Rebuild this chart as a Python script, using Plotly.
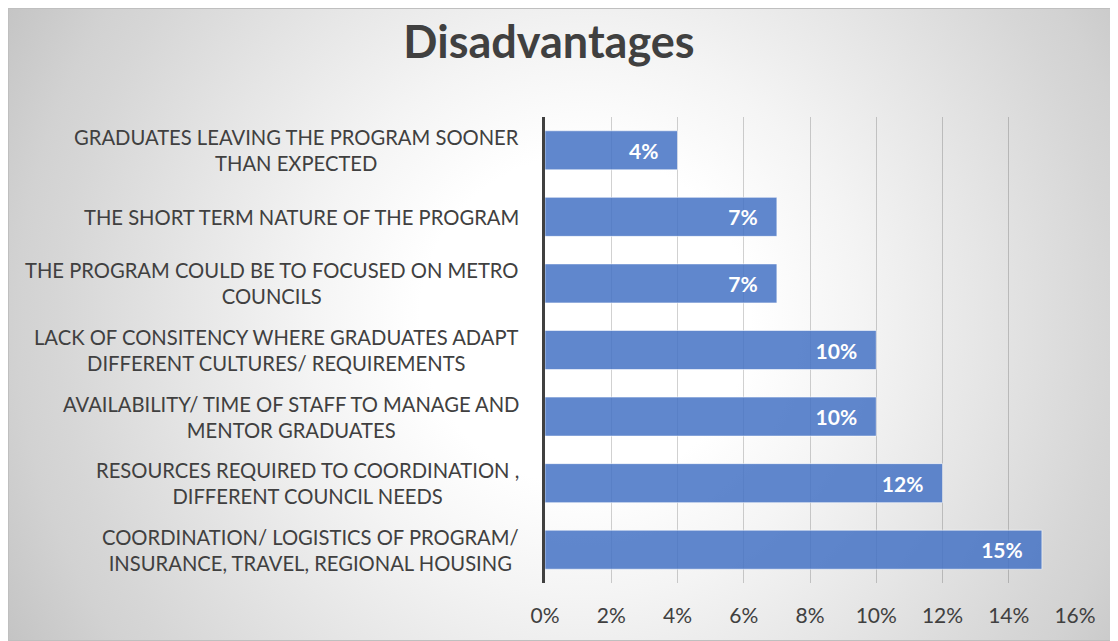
import base64
import plotly.graph_objects as go

categories = [
    "GRADUATES LEAVING THE PROGRAM SOONER<br>THAN EXPECTED",
    "THE SHORT TERM NATURE OF THE PROGRAM",
    "THE PROGRAM COULD BE TO FOCUSED ON METRO<br>COUNCILS",
    "LACK OF CONSITENCY WHERE GRADUATES ADAPT<br>DIFFERENT CULTURES/ REQUIREMENTS",
    "AVAILABILITY/ TIME OF STAFF TO MANAGE AND<br>MENTOR GRADUATES",
    "RESOURCES REQUIRED TO COORDINATION ,<br>DIFFERENT COUNCIL NEEDS",
    "COORDINATION/ LOGISTICS OF PROGRAM/<br>INSURANCE, TRAVEL, REGIONAL HOUSING",
]
values = [0.04, 0.07, 0.07, 0.10, 0.10, 0.12, 0.15]
tick_values = [0, 0.02, 0.04, 0.06, 0.08, 0.10, 0.12, 0.14, 0.16]
title_text = "Disadvantages"

# page body has an 8px margin, so the figure is sized/offset accordingly
OFF = 8
W, H = 1118 - OFF, 641 - OFF
L, R, T, B = 545 - OFF, 43, 117 - OFF, 58
pw, ph = W - L - R, H - T - B

FONT = "Lato"
TXT = "#404040"

# background gradient (chart area)
bw, bh = W, H
svg = f'''<svg xmlns="http://www.w3.org/2000/svg" width="{bw}" height="{bh}" viewBox="0 0 {bw} {bh}" preserveAspectRatio="none">
<defs><radialGradient id="g" gradientUnits="userSpaceOnUse" cx="577" cy="312" r="660">
<stop offset="0" stop-color="#ffffff"/>
<stop offset="0.25" stop-color="#ffffff"/>
<stop offset="0.42" stop-color="#f4f4f4"/>
<stop offset="0.6" stop-color="#e6e6e6"/>
<stop offset="0.8" stop-color="#d6d6d6"/>
<stop offset="0.86" stop-color="#d2d2d2"/>
<stop offset="1" stop-color="#c4c4c4"/>
</radialGradient></defs>
<rect x="0.5" y="0.5" width="{bw-1}" height="{bh-1}" fill="url(#g)" stroke="#bfbfbf" stroke-width="1"/>
</svg>'''
src = "data:image/svg+xml;base64," + base64.b64encode(svg.encode()).decode()

fig = go.Figure()
fig.add_trace(go.Bar(
    x=values,
    y=categories,
    orientation="h",
    marker=dict(color="rgba(68,114,196,0.85)", line=dict(color="rgba(255,255,255,0.55)", width=1)),
    text=values,
    texttemplate="<b>%{x:.0%}</b>\u00a0\u00a0\u00a0",
    textposition="inside",
    insidetextanchor="end",
    textfont=dict(family=FONT, size=21, color="white"),
    hoverinfo="skip",
))

annotations = []
for c in categories:
    annotations.append(dict(
        x=(521 - OFF - L) / pw, xref="paper", xanchor="right",
        y=c, yref="y", yanchor="middle",
        text=c, showarrow=False, align="center",
        font=dict(family=FONT, size=20.2, color=TXT),
    ))

fig.update_layout(
    width=W, height=H,
    margin=dict(l=L, r=R, t=T, b=B, pad=0),
    paper_bgcolor="white",
    plot_bgcolor="rgba(0,0,0,0)",
    bargap=0.414,
    showlegend=False,
    title=dict(text="<b>" + title_text + "</b>", x=(549 - OFF) / W, xref="container", xanchor="center",
               y=1 - (42 - OFF) / H, yref="container", yanchor="middle",
               font=dict(family=FONT, size=45, color=TXT)),
    xaxis=dict(range=[0, 0.16], tickvals=tick_values, tickformat=".0%",
               showgrid=True, gridcolor="rgba(0,0,0,0.18)", gridwidth=1,
               zeroline=False, showline=False, ticks="",
               ticklabelstandoff=18,
               tickfont=dict(family=FONT, size=21, color=TXT), fixedrange=True),
    yaxis=dict(autorange="reversed", showticklabels=False, showgrid=False,
               showline=True, linecolor="#404040", linewidth=3, ticks="", fixedrange=True),
    annotations=annotations,
    images=[dict(source=src, xref="paper", yref="paper",
                 x=-L / pw, y=(H - B) / ph,
                 sizex=bw / pw, sizey=bh / ph,
                 xanchor="left", yanchor="top", sizing="stretch", layer="below")],
)

fig.write_html("out.html")
